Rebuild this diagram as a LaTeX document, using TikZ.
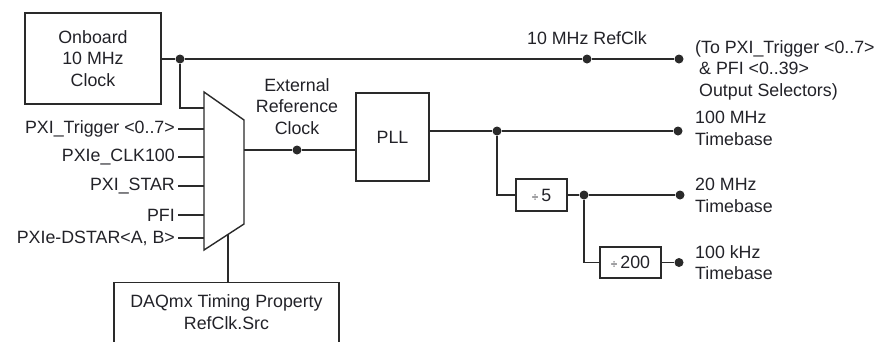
\documentclass[tikz,border=0pt]{standalone}
\usepackage{fontspec}
\setmainfont{Liberation Sans}
\definecolor{ink}{HTML}{222228}
\definecolor{wire}{HTML}{2A2A2A}
\begin{document}
\begin{tikzpicture}[x=1pt,y=-1pt,
  font=\fontsize{17.8}{21.5}\selectfont,
  txt/.style={text=ink, inner sep=0pt},
  blk/.style={draw=wire, line width=1.4pt, inner sep=0pt, text=ink, align=center},
  wr/.style={draw=wire, line width=1.4pt},
  dotc/.style={circle, fill=wire, inner sep=0pt, minimum size=9pt}]
\useasboundingbox (0,0) rectangle (880,341);
\clip (0,0) rectangle (880,341);
% blocks
\node[blk, minimum width=136pt, minimum height=91pt] (onb) at (93,58.5) {Onboard\\10 MHz\\Clock};
\node[blk, minimum width=73pt, minimum height=88pt] (pll) at (392.5,137) {PLL};
\node[blk, minimum width=51pt, minimum height=32pt] (div5) at (541.5,195) {{\fontsize{12}{12}\selectfont ÷}\,5};
\node[blk, minimum width=61pt, minimum height=31pt] (div200) at (630.5,262.5) {{\fontsize{12}{12}\selectfont ÷}\,200};
\node[blk, minimum width=225pt, minimum height=70pt, anchor=north] (daq) at (226.5,282) {};
\node[txt, align=center] (daqt) at (226.5,312) {DAQmx Timing Property\\RefClk.Src};
% mux
\coordinate (m1) at (204,92);
\coordinate (m2) at (244,120);
\coordinate (m3) at (244,224);
\coordinate (m4) at (204,250);
\draw[wr, line join=miter] (m1) -- (m2) -- (m3) -- (m4) -- cycle;
\coordinate (mout) at (244,150);
\coordinate (msel) at (228,234.4);
\draw[wr] (msel) -- (msel |- daq.north);
% top line
\node[dotc] (j1) at (180,59) {};
\node[dotc] (dref) at (587,59) {};
\node[dotc] (dend) at (679,59) {};
\draw[wr] (onb.east |- j1) -- (j1) -- (dref) -- (dend);
\coordinate (jd) at (180,108);
\draw[wr] (j1) -- (jd) -- (m1 |- jd);
\node[txt] (lref) at (587,38) {10 MHz RefClk};
\node[txt, anchor=west, align=left] (lto) at (695,70) {(To PXI\_Trigger <0..7>\\\hspace{4pt}\& PFI <0..39>\\\hspace{4pt}Output Selectors)};
% inputs
\foreach \n/\t/\y in {i1/{PXI\_Trigger <0..7>}/129, i2/{PXIe\_CLK100}/157, i3/{PXI\_STAR}/186, i4/{PFI}/215, i5/{PXIe-DSTAR<A, B>}/238}{
  \node[txt, anchor=east] (\n) at (175,\y) {\t};
  \draw[wr] ([xshift=3pt]\n.east) -- (m1 |- \n.east);
}
% external reference
\node[dotc] (dext) at (297,150) {};
\draw[wr] (mout) -- (dext) -- (pll.west |- dext);
\node[txt, align=center] (lext) at (297,106.5) {External\\Reference\\Clock};
% PLL outputs
\node[dotc] (d100) at (497,131) {};
\node[dotc] (e100) at (678,131) {};
\draw[wr] (pll.east |- d100) -- (d100) -- (e100);
\node[txt, anchor=west, align=left] (l100) at (695,128.5) {100 MHz\\Timebase};
\coordinate (c5) at (497,195);
\draw[wr] (d100) -- (c5) -- (div5.west);
\node[dotc] (d20) at (584,195) {};
\node[dotc] (e20) at (680,195) {};
\draw[wr] (div5.east) -- (d20) -- (e20);
\node[txt, anchor=west, align=left] (l20) at (695,195.5) {20 MHz\\Timebase};
\coordinate (c200) at (584,262.5);
\draw[wr] (d20) -- (c200) -- (div200.west);
\node[dotc] (e200) at (679,262.5) {};
\draw[wr] (div200.east) -- (e200);
\node[txt, anchor=west, align=left] (l200) at (695,262.5) {100 kHz\\Timebase};
\end{tikzpicture}
\end{document}
